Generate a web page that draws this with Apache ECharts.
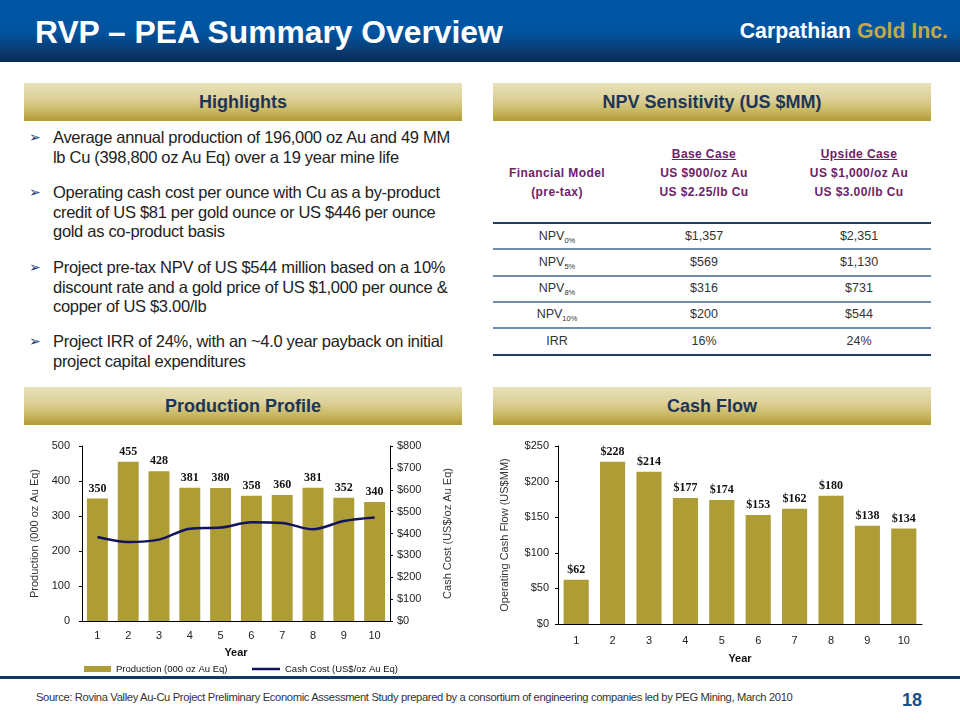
<!DOCTYPE html>
<html>
<head>
<meta charset="utf-8">
<script src="https://cdn.jsdelivr.net/npm/echarts@6/dist/echarts.min.js"></script>
<style>
  html, body { margin:0; padding:0; background:#fff; }
  body { width:960px; height:720px; position:relative; overflow:hidden; font-family:"Liberation Sans", Arial, sans-serif; }
  .abs { position:absolute; }
  #header { left:0; top:0; width:960px; height:62px;
    background: linear-gradient(to bottom, #0055a2 0%, #0055a2 50%, #0a3d74 80%, #062c56 100%); }
  #title { left:35px; top:14px; color:#fff; font-weight:bold; font-size:31.8px; white-space:nowrap; }
  #brand { right:12px; top:19px; color:#fff; font-weight:bold; font-size:21.3px; white-space:nowrap; }
  #brand span { color:#c2a945; }
  .sec { height:38px; width:438px; text-align:center; line-height:38px; color:#1c3557; font-weight:bold; font-size:18px;
    background: linear-gradient(to bottom, #e8e1b8 0%, #ddd29c 40%, #c8b65e 75%, #b09b34 100%); }
  .bul { left:29px; color:#222; font-size:16.5px; line-height:19.5px; white-space:nowrap; }
  .bul .arr { position:absolute; left:0; top:0; font-family:"DejaVu Sans"; font-size:14px; color:#1d3d78; }
  .bul .txt { position:absolute; left:24px; top:0; letter-spacing:-0.3px; }
  .th { color:#6b2369; font-weight:bold; font-size:12px; text-align:center; line-height:19px; letter-spacing:0.4px; white-space:nowrap; }
  .td { color:#333; font-size:12.5px; text-align:center; width:160px; white-space:nowrap; }
  .td sub { font-size:7.5px; vertical-align:-3px; }
  .hl { left:493px; width:438px; height:0; border-top:2px solid #6d8db0; }
  #foot { left:36px; top:691px; font-size:11.2px; color:#333; white-space:nowrap; letter-spacing:-0.35px; }
  #page { left:902px; top:690px; font-size:18px; font-weight:bold; color:#1c4f86; }
</style>
</head>
<body>
<div id="header" class="abs"></div>
<div id="title" class="abs">RVP – PEA Summary Overview</div>
<div id="brand" class="abs">Carpathian <span>Gold Inc.</span></div>

<div class="abs sec" style="left:24px;top:83px;">Highlights</div>
<div class="abs sec" style="left:493px;top:83px;">NPV Sensitivity (US $MM)</div>
<div class="abs sec" style="left:24px;top:387px;">Production Profile</div>
<div class="abs sec" style="left:493px;top:387px;">Cash Flow</div>

<div id="bullets"></div>

<div class="abs th" style="left:477px;top:164px;width:160px;">Financial Model<br>(pre-tax)</div>
<div class="abs th" style="left:624px;top:145px;width:160px;"><u>Base Case</u><br>US $900/oz Au<br>US $2.25/lb Cu</div>
<div class="abs th" style="left:779px;top:145px;width:160px;"><u>Upside Case</u><br>US $1,000/oz Au<br>US $3.00/lb Cu</div>
<div id="table"></div>

<div id="chart1" class="abs" style="left:0;top:430px;width:480px;height:250px;"></div>
<div id="chart2" class="abs" style="left:480px;top:430px;width:480px;height:250px;"></div>

<div class="abs" style="left:0;top:676px;width:960px;height:3px;background:#0f3a66;"></div>
<div id="foot" class="abs">Source: Rovina Valley Au-Cu Project Preliminary Economic Assessment Study prepared by a consortium of engineering companies led by PEG Mining, March 2010</div>
<div id="page" class="abs">18</div>

<script>
// ---------- data ----------
const years = ['1','2','3','4','5','6','7','8','9','10'];
const production = [350, 455, 428, 381, 380, 358, 360, 381, 352, 340];
const cashCost = [384, 361, 372, 422, 427, 451, 448, 419, 457, 473];
const cashFlow = [62, 228, 214, 177, 174, 153, 162, 180, 138, 134];

const bulletLines = [
  ['Average annual production of 196,000 oz Au and 49 MM', 'lb Cu (398,800 oz Au Eq) over a 19 year mine life'],
  ['Operating cash cost per ounce with Cu as a by-product', 'credit of US $81 per gold ounce or US $446 per ounce', 'gold as co-product basis'],
  ['Project pre-tax NPV of US $544 million based on a 10%', 'discount rate and a gold price of US $1,000 per ounce &', 'copper of US $3.00/lb'],
  ['Project IRR of 24%, with an ~4.0 year payback on initial', 'project capital expenditures']
];
const npvRows = ['0%', '5%', '8%', '10%'];
const baseCase = ['$1,357', '$569', '$316', '$200', '16%'];
const upsideCase = ['$2,351', '$1,130', '$731', '$544', '24%'];

// ---------- text blocks ----------
const bulletTops = [128, 183, 258, 332];
let bh = '';
bulletLines.forEach((lines, i) => {
  bh += '<div class="abs bul" style="top:' + bulletTops[i] + 'px;"><span class="arr">➢</span><span class="txt">' + lines.join('<br>') + '</span></div>';
});
document.getElementById('bullets').innerHTML = bh;

const lineYs = [222, 248, 275, 301, 327, 354];
const rowYs = [229, 255, 281, 307, 334];
let th = '';
lineYs.forEach((y, i) => {
  const c = (i === 0 || i === 5) ? '#1f3f66' : '#6d8db0';
  th += '<div class="abs hl" style="top:' + y + 'px;border-top-color:' + c + ';"></div>';
});
const labels = npvRows.map(r => 'NPV<sub>' + r + '</sub>').concat(['IRR']);
labels.forEach((l, i) => {
  th += '<div class="abs td" style="left:477px;top:' + rowYs[i] + 'px;">' + l + '</div>';
  th += '<div class="abs td" style="left:624px;top:' + rowYs[i] + 'px;">' + baseCase[i] + '</div>';
  th += '<div class="abs td" style="left:779px;top:' + rowYs[i] + 'px;">' + upsideCase[i] + '</div>';
});
document.getElementById('table').innerHTML = th;

// ---------- charts ----------
const GOLD = '#ae9c35';
const NAVY = '#12125e';
const FONT = 'Liberation Sans';
const tick = { color:'#222', fontSize:11, fontFamily:FONT };
const dataLabel = { show:true, position:'top', distance:4, fontFamily:'Liberation Serif', fontWeight:'bold', fontSize:12, color:'#111' };
const axLine = { show:true, lineStyle:{ color:'#000', width:1 } };
const legendText = { fontSize:9.5, fontFamily:FONT, color:'#111' };

const c1 = echarts.init(document.getElementById('chart1'), null, { renderer:'canvas' });
c1.setOption({
  animation:false,
  grid:{ left:82, right:90, top:16, height:175 },
  legend:[{
    left:84, top:234, itemWidth:27, itemHeight:6, padding:0, textStyle:legendText,
    data:[{ name:'Production (000 oz Au Eq)', icon:'rect' }]
  },{
    left:252, top:234, itemWidth:28, itemHeight:2.5, padding:0, textStyle:legendText,
    data:[{ name:'Cash Cost (US$/oz Au Eq)', icon:'rect' }]
  }],
  xAxis:{
    type:'category', data:years, axisLine:axLine, axisTick:{ show:false },
    axisLabel:{ ...tick, margin:9 },
    name:'Year', nameLocation:'middle', nameGap:26,
    nameTextStyle:{ fontWeight:'bold', fontSize:11, fontFamily:FONT, color:'#111' }
  },
  yAxis:[{
    type:'value', min:0, max:500, interval:100, splitLine:{ show:false },
    axisLine:axLine, axisTick:{ show:true, length:3, lineStyle:{ color:'#000' } },
    axisLabel:{ ...tick, margin:12 },
    name:'Production (000 oz Au Eq)', nameLocation:'middle', nameGap:39, nameRotate:90,
    nameTextStyle:{ fontSize:11, fontFamily:FONT, color:'#333' }
  },{
    type:'value', min:0, max:800, interval:100, splitLine:{ show:false },
    axisLine:axLine, axisTick:{ show:true, length:3, lineStyle:{ color:'#000' } },
    axisLabel:{ ...tick, margin:7, formatter:v => '$' + v },
    name:'Cash Cost (US$/oz Au Eq)', nameLocation:'middle', nameGap:52, nameRotate:90,
    nameTextStyle:{ fontSize:11, fontFamily:FONT, color:'#333' }
  }],
  series:[{
    name:'Production (000 oz Au Eq)', type:'bar', data:production, barWidth:'68%',
    itemStyle:{ color:GOLD }, label:dataLabel
  },{
    name:'Cash Cost (US$/oz Au Eq)', type:'line', yAxisIndex:1, data:cashCost, smooth:0.3,
    symbol:'none', lineStyle:{ color:NAVY, width:2.5 }, itemStyle:{ color:NAVY }
  }]
});

const c2 = echarts.init(document.getElementById('chart2'), null, { renderer:'canvas' });
c2.setOption({
  animation:false,
  grid:{ left:78, right:38, top:16, height:178 },
  xAxis:{
    type:'category', data:years, axisLine:axLine, axisTick:{ show:false },
    axisLabel:{ ...tick, margin:11 },
    name:'Year', nameLocation:'middle', nameGap:29,
    nameTextStyle:{ fontWeight:'bold', fontSize:11, fontFamily:FONT, color:'#111' }
  },
  yAxis:{
    type:'value', min:0, max:250, interval:50, splitLine:{ show:false },
    axisLine:axLine, axisTick:{ show:true, length:3, lineStyle:{ color:'#000' } },
    axisLabel:{ ...tick, margin:9, formatter:v => '$' + v },
    name:'Operating Cash Flow (US$MM)', nameLocation:'middle', nameGap:48, nameRotate:90,
    nameTextStyle:{ fontSize:11, fontFamily:FONT, color:'#333' }
  },
  series:[{
    type:'bar', data:cashFlow, barWidth:'69%', itemStyle:{ color:GOLD },
    label:{ ...dataLabel, formatter:p => '$' + p.value }
  }]
});
</script>
</body>
</html>
